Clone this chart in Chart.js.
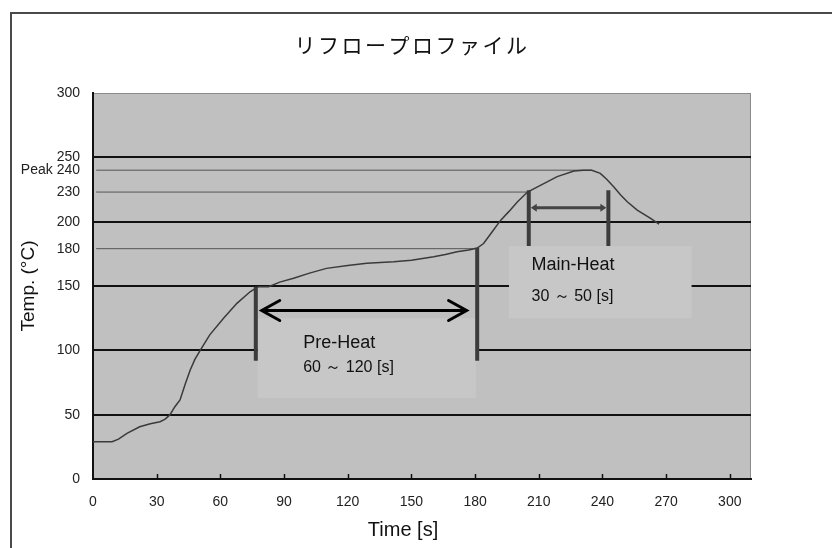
<!DOCTYPE html>
<html>
<head>
<meta charset="utf-8">
<script src="https://cdn.jsdelivr.net/npm/chart.js@4.4.1/dist/chart.umd.min.js"></script>
<style>
  html, body { margin: 0; padding: 0; background: #fff; }
  #wrap { width: 832px; height: 548px; }
</style>
</head>
<body>
<div id="wrap"><canvas id="myChart" width="832" height="548"></canvas></div>
<script>
// リフロープロファイル (時間 [s] / 温度 [°C])
const chartTitle = 'リフロープロファイル';
const xTitle = 'Time [s]';

const times = [0, 9, 12, 16, 22, 27, 31.6, 34, 36.3, 38.5, 41, 43.5, 45.8, 48, 50.5, 55, 61.5, 67.8, 74, 76.4, 78, 82.7,
    88, 94.5, 102, 110, 120, 129, 141.7, 150, 160.5, 166, 171.5, 177, 181, 184, 188, 192, 196, 200, 204.7,
    211, 218.7, 226.6, 231, 235, 239, 242, 245.4, 248.5, 251.7, 256.4, 262.7, 266.7];
const temps = [29, 29, 31, 35.5, 40.6, 43, 44.5, 46.5, 50, 56, 61.4, 74, 84.7, 93, 100, 112, 125, 136.5, 145.5, 148, 149.5, 149.5,
    153, 156, 160, 163.7, 166, 167.6, 168.8, 170, 172.7, 174.5, 176.6, 178, 179.5, 183, 192, 201, 208, 215.5, 223,
    228.4, 235, 239.3, 240, 240, 237.5, 233, 227, 221, 215.5, 209, 202.6, 198];

const xTickValues = [0, 30, 60, 90, 120, 150, 180, 210, 240, 270, 300];
const yTickValues = [0, 50, 100, 150, 179, 200, 223, 240, 250, 300];
const yTickLabels = ['0', '50', '100', '150', '180', '200', '230', 'Peak 240', '250', '300'];
const majorLevels = [50, 100, 150, 200, 250];

// 曲線まで引く補助線
const refLevels = [179, 223, 240];
const refEnds = [181, 205, 235];

// プリヒート / メインヒート区間
const preHeatX = [76.7, 181];
const preHeatTop = [149.5, 179.5];
const preHeatBottom = 92;
const preHeatArrowX = [79.5, 176];
const preHeatArrowY = 131;
const mainHeatX = [205.3, 242.8];
const mainHeatRange = [181, 224.5];
const mainHeatArrowY = 210.8;

const labelFont = '"Liberation Sans", Arial, sans-serif';

const datasets = [{
    data: times.map((t, i) => ({ x: t, y: temps[i] })),
    borderColor: '#3a3a3a',
    borderWidth: 1.5,
    pointRadius: 0,
    tension: 0
}];

refLevels.forEach((lv, i) => {
    datasets.push({
        data: [{ x: 1.5, y: lv }, { x: refEnds[i], y: lv }],
        borderColor: '#555',
        borderWidth: 1,
        pointRadius: 0
    });
});

preHeatX.forEach((t, i) => {
    datasets.push({
        data: [{ x: t, y: preHeatTop[i] }, { x: t, y: preHeatBottom }],
        borderColor: '#3c3c3c',
        borderWidth: 4,
        pointRadius: 0
    });
});

mainHeatX.forEach(t => {
    datasets.push({
        data: [{ x: t, y: mainHeatRange[1] }, { x: t, y: mainHeatRange[0] }],
        borderColor: '#3c3c3c',
        borderWidth: 4,
        pointRadius: 0
    });
});

const decor = {
    id: 'decor',
    beforeDraw(chart) {
        const { ctx, chartArea: a } = chart;
        ctx.save();
        // 外枠
        ctx.strokeStyle = '#4a4a4a';
        ctx.lineWidth = 2;
        ctx.beginPath();
        ctx.moveTo(11, 548);
        ctx.lineTo(11, 13);
        ctx.lineTo(832, 13);
        ctx.stroke();
        // タイトル
        ctx.fillStyle = '#111';
        ctx.font = '21px "Noto Sans CJK JP", sans-serif';
        ctx.letterSpacing = '2.5px';
        ctx.textAlign = 'center';
        ctx.textBaseline = 'middle';
        ctx.fillText(chartTitle, 412, 45);
        ctx.letterSpacing = '0px';
        // プロット背景
        ctx.fillStyle = '#c0c0c0';
        ctx.fillRect(a.left, a.top, a.right - a.left, a.bottom - a.top);
        ctx.strokeStyle = '#8a8a8a';
        ctx.lineWidth = 1;
        ctx.strokeRect(a.left + 0.5, a.top + 0.5, a.right - a.left - 1, a.bottom - a.top);
        ctx.restore();
    },
    beforeDatasetsDraw(chart) {
        const { ctx, scales: { x, y } } = chart;
        ctx.save();
        ctx.fillStyle = '#c7c7c7';
        const box = (t0, t1, v0, v1) => {
            const x0 = x.getPixelForValue(t0), x1 = x.getPixelForValue(t1);
            const y0 = y.getPixelForValue(v0), y1 = y.getPixelForValue(v1);
            ctx.fillRect(x0, y0, x1 - x0, y1 - y0);
        };
        box(77.6, 180.4, 125, 63);
        box(196, 282, 181, 125);
        ctx.restore();
    },
    afterDatasetsDraw(chart) {
        const { ctx, chartArea: a, scales: { x, y } } = chart;
        ctx.save();

        // x軸の目盛り (内側)
        ctx.strokeStyle = '#111';
        ctx.lineWidth = 1.5;
        xTickValues.slice(1).forEach(v => {
            const px = Math.round(x.getPixelForValue(v)) + 0.5;
            ctx.beginPath();
            ctx.moveTo(px, a.bottom);
            ctx.lineTo(px, a.bottom - 5);
            ctx.stroke();
        });

        // プリヒート矢印
        let x0 = x.getPixelForValue(preHeatArrowX[0]);
        let x1 = x.getPixelForValue(preHeatArrowX[1]);
        let yy = y.getPixelForValue(preHeatArrowY);
        ctx.strokeStyle = '#000';
        ctx.lineWidth = 3;
        ctx.lineCap = 'round';
        ctx.beginPath();
        ctx.moveTo(x0, yy);
        ctx.lineTo(x1, yy);
        ctx.moveTo(x0 + 18, yy - 10);
        ctx.lineTo(x0, yy);
        ctx.lineTo(x0 + 18, yy + 10);
        ctx.moveTo(x1 - 18, yy - 10);
        ctx.lineTo(x1, yy);
        ctx.lineTo(x1 - 18, yy + 10);
        ctx.stroke();

        // メインヒート矢印
        x0 = x.getPixelForValue(mainHeatX[0]) + 2;
        x1 = x.getPixelForValue(mainHeatX[1]) - 2;
        yy = y.getPixelForValue(mainHeatArrowY);
        ctx.strokeStyle = '#444';
        ctx.fillStyle = '#444';
        ctx.lineWidth = 3;
        ctx.lineCap = 'butt';
        ctx.beginPath();
        ctx.moveTo(x0 + 4, yy);
        ctx.lineTo(x1 - 4, yy);
        ctx.stroke();
        ctx.beginPath();
        ctx.moveTo(x0, yy);
        ctx.lineTo(x0 + 6, yy - 4);
        ctx.lineTo(x0 + 6, yy + 4);
        ctx.closePath();
        ctx.moveTo(x1, yy);
        ctx.lineTo(x1 - 6, yy - 4);
        ctx.lineTo(x1 - 6, yy + 4);
        ctx.closePath();
        ctx.fill();

        // ラベル
        ctx.fillStyle = '#111';
        ctx.textAlign = 'left';
        ctx.textBaseline = 'middle';
        ctx.font = '18px ' + labelFont;
        ctx.fillText('Pre-Heat', x.getPixelForValue(99), y.getPixelForValue(105.7));
        ctx.fillText('Main-Heat', x.getPixelForValue(206.6), y.getPixelForValue(166.3));
        ctx.font = '16px ' + labelFont;
        ctx.fillText('60 ～ 120 [s]', x.getPixelForValue(99), y.getPixelForValue(86.2));
        ctx.fillText('30 ～ 50 [s]', x.getPixelForValue(206.6), y.getPixelForValue(141.4));

        // x軸タイトル
        ctx.textAlign = 'center';
        ctx.font = '20px ' + labelFont;
        ctx.fillText(xTitle, 403, 530);
        ctx.restore();
    }
};

const ctx = document.getElementById('myChart').getContext('2d');
const chart = new Chart(ctx, {
    type: 'line',
    data: { datasets: datasets },
    options: {
        responsive: false,
        animation: false,
        devicePixelRatio: 1,
        layout: { padding: { left: 0, right: 81, top: 93, bottom: 0 } },
        plugins: {
            legend: { display: false },
            tooltip: { enabled: false },
            title: { display: false }
        },
        scales: {
            x: {
                type: 'linear',
                min: 0,
                max: 310,
                afterBuildTicks: s => { s.ticks = xTickValues.map(v => ({ value: v })); },
                afterFit: s => { s.height = 69; },
                grid: { display: false, drawTicks: false },
                border: { display: true, color: '#111', width: 2 },
                ticks: {
                    autoSkip: false,
                    maxRotation: 0,
                    padding: 15,
                    color: '#222',
                    font: { family: labelFont, size: 14 }
                }
            },
            y: {
                type: 'linear',
                min: 0,
                max: 300,
                afterBuildTicks: s => { s.ticks = yTickValues.map(v => ({ value: v })); },
                afterFit: s => { s.width = 93; },
                grid: {
                    drawTicks: false,
                    color: c => majorLevels.includes(c.tick && c.tick.value) ? '#111' : 'rgba(0,0,0,0)',
                    lineWidth: 2
                },
                border: { display: true, color: '#111', width: 2 },
                ticks: {
                    autoSkip: false,
                    padding: 13,
                    color: '#222',
                    font: { family: labelFont, size: 14 },
                    callback: v => yTickLabels[yTickValues.indexOf(v)]
                },
                title: {
                    display: true,
                    text: 'Temp. (°C)',
                    color: '#111',
                    font: { family: labelFont, size: 19 },
                    padding: { top: 17, bottom: 0 }
                }
            }
        }
    },
    plugins: [decor]
});
</script>
</body>
</html>
